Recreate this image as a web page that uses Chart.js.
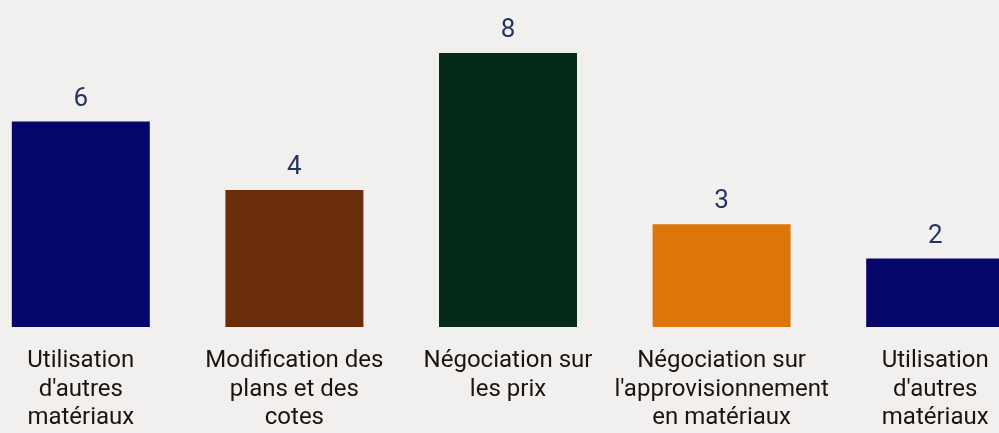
<!DOCTYPE html>
<html><head><meta charset="utf-8">
<script src="https://cdn.jsdelivr.net/npm/chart.js@4/dist/chart.umd.min.js"></script>
<style>
html,body{margin:0;padding:0;background:#f2f0ee;overflow:hidden;width:999px;height:433px;}
#wrap{position:absolute;left:-26px;top:0;width:1068px;height:433px;}
</style></head>
<body><div id="wrap"><canvas id="c" width="1068" height="433"></canvas></div>
<script>
const categories = [
  ["Utilisation","d'autres","matériaux"],
  ["Modification des","plans et des","cotes"],
  ["Négociation sur","les prix"],
  ["Négociation sur","l'approvisionnement","en matériaux"],
  ["Utilisation","d'autres","matériaux"]
];
const values = [6, 4, 8, 3, 2];
const barColors = ["#06066a", "#6b2c0a", "#052a17", "#dc760b", "#06066a"];

const valueLabels = {
  id: 'valueLabels',
  afterDatasetsDraw(chart) {
    const ctx = chart.ctx;
    const meta = chart.getDatasetMeta(0);
    ctx.save();
    ctx.font = '26px Roboto';
    ctx.fillStyle = '#22365f';
    ctx.textAlign = 'center';
    ctx.textBaseline = 'alphabetic';
    meta.data.forEach((bar, i) => {
      ctx.fillText(String(values[i]), bar.x, bar.y - 16);
    });
    ctx.restore();
  }
};

new Chart(document.getElementById('c'), {
  type: 'bar',
  data: {
    labels: categories,
    datasets: [{
      data: values,
      backgroundColor: barColors,
      borderWidth: 0,
      categoryPercentage: 1,
      barPercentage: 0.646
    }]
  },
  options: {
    responsive: false,
    animation: false,
    layout: { padding: { top: 53, left: 0, right: 0, bottom: 0 } },
    plugins: { legend: { display: false }, tooltip: { enabled: false } },
    scales: {
      y: { display: false, min: 0, max: 8 },
      x: {
        grid: { display: false, drawTicks: false },
        border: { display: false },
        afterFit: (s) => { s.height = 106; },
        ticks: {
          color: '#1c1410',
          font: { family: 'Roboto', size: 24, lineHeight: 1.19 },
          padding: 20,
          maxRotation: 0,
          autoSkip: false
        }
      }
    }
  },
  plugins: [valueLabels]
});
</script>
</body></html>
